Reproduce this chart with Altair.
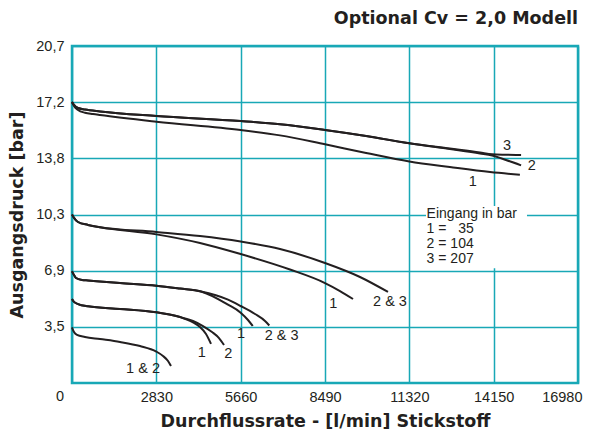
import altair as alt
import pandas as pd

# ---- axis ticks ----
x_ticks = [0, 2830, 5660, 8490, 11320, 14150, 16980]
y_ticks = [3.45, 6.9, 10.35, 13.8, 17.25, 20.7]
y_tick_labels = ["3,5", "6,9", "10,3", "13,8", "17,2", "20,7"]

# ---- curves (x = l/min, y = bar) ----
# group starting at 17,2 bar
a1_x = [0, 67, 201, 436, 705, 940, 2830, 5660, 6980, 8490, 9870, 11320, 12680, 14030, 15030]
a1_y = [17.26, 17.01, 16.77, 16.60, 16.52, 16.46, 16.05, 15.54, 15.21, 14.66, 14.13, 13.61, 13.27, 12.96, 12.79]
a2_x = [0, 67, 201, 436, 940, 2830, 5660, 6980, 8490, 9870, 11320, 12680, 13690, 14100, 14560, 15070]
a2_y = [17.26, 17.08, 16.89, 16.80, 16.68, 16.40, 16.09, 15.89, 15.54, 15.17, 14.72, 14.37, 14.10, 13.97, 13.70, 13.37]
a3_x = [0, 67, 201, 436, 940, 2830, 5660, 6980, 8490, 9870, 11320, 12680, 13690, 14100, 14560, 15070]
a3_y = [17.26, 17.08, 16.89, 16.80, 16.68, 16.40, 16.09, 15.89, 15.54, 15.17, 14.72, 14.40, 14.16, 14.05, 14.02, 14.00]
# group starting at 10,3 bar
b1_x = [0, 67, 201, 537, 940, 2830, 4295, 5660, 7315, 8490, 8993, 9430]
b1_y = [10.35, 10.14, 9.89, 9.71, 9.57, 9.13, 8.60, 7.92, 6.97, 6.14, 5.65, 5.16]
b23_x = [0, 67, 201, 537, 940, 2830, 4295, 5660, 6980, 8490, 9664, 10604]
b23_y = [10.35, 10.14, 9.89, 9.71, 9.57, 9.28, 9.03, 8.69, 8.23, 7.37, 6.51, 5.59]
# group starting at 6,9 bar
c1_x = [0, 67, 134, 336, 537, 1611, 2830, 3624, 4329, 5235, 5660, 5906, 6064]
c1_y = [6.86, 6.63, 6.45, 6.33, 6.30, 6.14, 5.98, 5.80, 5.62, 4.81, 4.32, 3.87, 3.50]
c23_x = [0, 67, 134, 336, 537, 1611, 2830, 3624, 4329, 5235, 5660, 6141, 6477, 6621]
c23_y = [6.86, 6.63, 6.45, 6.33, 6.30, 6.14, 5.98, 5.80, 5.62, 5.12, 4.73, 4.24, 3.81, 3.53]
# group starting at ~5,2 bar
d1_x = [0, 67, 201, 537, 1611, 2830, 3624, 4060, 4295, 4497, 4665]
d1_y = [5.16, 4.98, 4.85, 4.71, 4.55, 4.34, 4.05, 3.72, 3.44, 3.01, 2.40]
d2_x = [0, 67, 201, 537, 1611, 2830, 3624, 4060, 4396, 4698, 4933, 5101]
d2_y = [5.16, 4.98, 4.85, 4.71, 4.55, 4.34, 4.05, 3.81, 3.50, 3.13, 2.76, 2.33]
# group starting at 3,5 bar
e_x = [0, 67, 168, 436, 940, 1611, 2282, 2830, 3054, 3222, 3322]
e_y = [3.41, 3.13, 2.95, 2.83, 2.70, 2.52, 2.27, 1.93, 1.66, 1.35, 1.04]

# ---- curve labels ----
lab_text = ["3", "2", "1", "1", "2 & 3", "1", "2 & 3", "1", "2", "1 & 2"]
lab_x = [14597, 15426, 13446, 8769, 10671, 5671, 7037, 4352, 5245, 2383]
lab_y = [14.56, 13.33, 12.36, 4.83, 4.98, 2.99, 2.89, 1.86, 1.76, 0.86]

# ---- inlet pressure legend ----
leg_text = ["Eingang in bar", "1 = \u00a0\u00a035", "2 = 104", "3 = 207"]
leg_x = [11900, 11900, 11900, 11900]
leg_y = [10.40, 9.46, 8.52, 7.60]

TEAL = "#18a8b6"
INK = "#231f20"
FONT = "Liberation Sans"
BOLD = "DejaVu Sans"

curves = {"a1": (a1_x, a1_y), "a2": (a2_x, a2_y), "a3": (a3_x, a3_y),
          "b1": (b1_x, b1_y), "b23": (b23_x, b23_y),
          "c1": (c1_x, c1_y), "c23": (c23_x, c23_y),
          "d1": (d1_x, d1_y), "d2": (d2_x, d2_y), "e": (e_x, e_y)}
rows = []
for name, (xs, ys) in curves.items():
    for i, (xv, yv) in enumerate(zip(xs, ys)):
        rows.append({"curve": name, "i": i, "x": xv, "y": yv})
lines_df = pd.DataFrame(rows)
labels_df = pd.DataFrame({"x": lab_x, "y": lab_y, "t": lab_text})
legend_df = pd.DataFrame({"x": leg_x, "y": leg_y, "t": leg_text})
box_df = pd.DataFrame({"x": [11879], "x2": [15268], "y": [7.05], "y2": [10.87]})
zero_df = pd.DataFrame({"x": [0], "y": [0], "t": ["0"]})

xscale = alt.Scale(domain=[0, 16980], nice=False, zero=True)
yscale = alt.Scale(domain=[0, 20.7], nice=False, zero=True)

ylab_expr = " : ".join(
    f"datum.value < {v + 0.5} ? '{l}'" for v, l in zip(y_ticks[:-1], y_tick_labels[:-1])
) + f" : '{y_tick_labels[-1]}'"

x_axis = alt.Axis(values=x_ticks, format="d", labelExpr="datum.value == 0 ? '' : datum.label",
                  title="Durchflussrate - [l/min] Stickstoff", grid=True, gridColor=TEAL,
                  gridWidth=1.5, gridOpacity=1, domain=False, ticks=False, labelPadding=7,
                  labelFont=FONT, labelFontSize=14.5, labelColor=INK, labelFlush=True,
                  labelFlushOffset=4, titleFont=BOLD, titleFontSize=17.5, titleFontWeight="bold",
                  titleColor=INK, titlePadding=9)
y_axis = alt.Axis(values=y_ticks, labelExpr=ylab_expr, title="Ausgangsdruck [bar]", grid=True,
                  gridColor=TEAL, gridWidth=1.5, gridOpacity=1, domain=False, ticks=False,
                  labelPadding=8, labelFont=FONT, labelFontSize=14.5, labelColor=INK,
                  titleFont=BOLD, titleFontSize=17.5, titleFontWeight="bold", titleColor=INK,
                  titlePadding=9)

X = alt.X("x:Q", scale=xscale, axis=x_axis)
Y = alt.Y("y:Q", scale=yscale, axis=y_axis)

lines = alt.Chart(lines_df).mark_line(color=INK, strokeWidth=2, interpolate="monotone").encode(
    x=X, y=Y, detail="curve:N", order="i:Q",
)

box = alt.Chart(box_df).mark_rect(color="white").encode(x=X, x2="x2:Q", y=Y, y2="y2:Q")

labels = alt.Chart(labels_df).mark_text(font=FONT, fontSize=14.5, color=INK, align="center",
                                        baseline="middle").encode(x=X, y=Y, text="t:N")

legend = alt.Chart(legend_df).mark_text(font=FONT, fontSize=14, color=INK, align="left",
                                        baseline="middle").encode(x=X, y=Y, text="t:N")

zero = alt.Chart(zero_df).mark_text(font=FONT, fontSize=14.5, color=INK, align="center",
                                    baseline="top", dx=-12, dy=7).encode(x=X, y=Y, text="t:N")

chart = alt.layer(lines, box, labels, legend, zero).properties(
    width=506, height=337,
    background="white",
    autosize=alt.AutoSizeParams(type="none"),
    padding={"left": 64, "top": 38, "right": 5, "bottom": 50},
    title=alt.TitleParams("Optional Cv = 2,0 Modell", anchor="end", frame="group", font=BOLD,
                          fontSize=17.5, fontWeight="bold", color=INK, offset=11),
).configure_view(stroke=TEAL, strokeWidth=2.5)

chart.save("out.html", embed_options={"renderer": "svg", "actions": False})
